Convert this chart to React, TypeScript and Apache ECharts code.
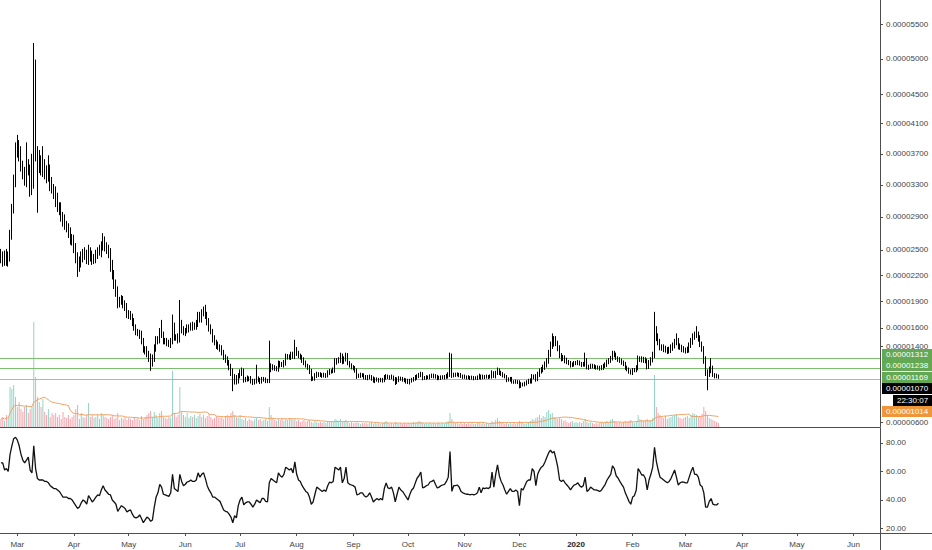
import React, { useEffect, useRef } from "react";
import * as echarts from "echarts";

// ---- data (prices in satoshi, 1e-8) ----
const START = [2019, 1, 20]; // 2019-02-20 (UTC, month 0-based)
const END = [2020, 5, 15]; // 2020-06-15
const FIRST_OPEN = 2450;

const closes = [
  2400, 2380, 2440, 2360, 2420, 2700, 3000, 3350, 3750, 3800,
  3700, 3550, 3450, 3350, 3550, 3500, 3250, 3300, 4850, 3700,
  3550, 3600, 3500, 3550, 3450, 3420, 3480, 3300, 3250, 3200,
  3100, 3020, 3000, 2900, 2850, 2800, 2760, 2700, 2630, 2600,
  2520, 2420, 2300, 2340, 2420, 2460, 2440, 2380, 2480, 2430,
  2380, 2400, 2440, 2480, 2470, 2540, 2600, 2540, 2500, 2460,
  2300, 2200, 2100, 2000, 1880, 1900, 1910, 1870, 1830, 1760,
  1740, 1720, 1660, 1600, 1560, 1540, 1520, 1450, 1370, 1360,
  1320, 1280, 1220, 1260, 1380, 1450, 1470, 1550, 1520, 1460,
  1450, 1440, 1420, 1450, 1620, 1500, 1490, 1470, 1650, 1580,
  1550, 1570, 1590, 1600, 1620, 1610, 1620, 1640, 1720, 1700,
  1760, 1800, 1740, 1660, 1600, 1560, 1480, 1440, 1410, 1390,
  1370, 1330, 1280, 1250, 1220, 1180, 1120, 1020, 1060, 1030,
  1080, 1110, 1130, 1040, 1050, 1055, 1050, 1030, 1010, 1025,
  1045, 1035, 1025, 1040, 1045, 1030, 1025, 1150, 1175, 1165,
  1160, 1150, 1210, 1200, 1195, 1220, 1280, 1280, 1275, 1300,
  1290, 1360, 1320, 1290, 1280, 1250, 1220, 1190, 1170, 1130,
  1050, 1055, 1080, 1100, 1095, 1090, 1085, 1090, 1085, 1110,
  1130, 1130, 1140, 1230, 1240, 1250, 1280, 1230, 1260, 1300,
  1220, 1190, 1175, 1160, 1140, 1080, 1085, 1090, 1088, 1070,
  1060, 1065, 1075, 1055, 1030, 1040, 1045, 1035, 1040, 1035,
  1065, 1080, 1068, 1065, 1070, 1050, 1015, 1040, 1058, 1050,
  1045, 1035, 1025, 1015, 1030, 1045, 1050, 1065, 1078, 1088,
  1100, 1060, 1065, 1068, 1070, 1078, 1080, 1085, 1072, 1060,
  1062, 1066, 1068, 1070, 1078, 1090, 1290, 1085, 1095, 1095,
  1098, 1092, 1080, 1075, 1070, 1068, 1066, 1062, 1064, 1060,
  1062, 1066, 1080, 1066, 1075, 1073, 1075, 1073, 1077, 1110,
  1080, 1110, 1140, 1115, 1100, 1090, 1075, 1040, 1045, 1050,
  1020, 1018, 1022, 1015, 975, 995, 990, 1000, 1015, 1025,
  1030, 1070, 1075, 1050, 1100, 1130, 1150, 1170, 1200, 1240,
  1320, 1400, 1430, 1470, 1430, 1380, 1300, 1270, 1275, 1250,
  1230, 1215, 1195, 1205, 1215, 1220, 1225, 1210, 1200, 1205,
  1250, 1170, 1175, 1190, 1185, 1175, 1172, 1168, 1162, 1170,
  1185, 1200, 1225, 1245, 1265, 1320, 1305, 1270, 1255, 1240,
  1225, 1205, 1170, 1150, 1130, 1115, 1140, 1145, 1170, 1260,
  1260, 1250, 1255, 1240, 1180, 1220, 1250, 1300, 1560, 1490,
  1440, 1390, 1380, 1370, 1360, 1350, 1360, 1380, 1410, 1440,
  1460, 1400, 1390, 1370, 1360, 1355, 1365, 1410, 1450, 1500,
  1520, 1530, 1480, 1420, 1370, 1250, 1120, 1100, 1140, 1160,
  1090, 1080, 1075, 1070,
];

const upperWicks = [
  60, 80, 50, 70, 60, 40, 60, 80, 100, 150,
  80, 100, 60, 80, 300, 80, 60, 400, 380, 140,
  100, 150, 80, 250, 80, 100, 200, 80, 100, 60,
  80, 100, 60, 80, 60, 80, 50, 60, 70, 60,
  80, 60, 50, 80, 60, 50, 70, 60, 80, 50,
  60, 50, 60, 50, 80, 60, 100, 60, 50, 60,
  60, 80, 60, 50, 70, 50, 60, 50, 40, 50,
  40, 50, 40, 50, 40, 30, 40, 50, 40, 30,
  40, 30, 40, 50, 40, 60, 40, 50, 140, 40,
  30, 40, 30, 40, 130, 40, 30, 50, 265, 40,
  40, 30, 50, 40, 40, 50, 40, 50, 60, 60,
  50, 40, 60, 40, 50, 40, 30, 40, 30, 40,
  30, 40, 30, 30, 40, 30, 30, 40, 40, 30,
  30, 40, 40, 30, 20, 30, 20, 30, 20, 25,
  155, 30, 25, 30, 25, 20, 20, 310, 40, 30,
  30, 25, 35, 30, 30, 30, 40, 35, 30, 40,
  40, 110, 30, 30, 30, 25, 30, 25, 20, 25,
  25, 20, 30, 25, 20, 25, 20, 25, 20, 30,
  25, 20, 30, 40, 30, 30, 50, 40, 30, 30,
  25, 20, 25, 20, 25, 20, 20, 25, 20, 20,
  20, 25, 20, 15, 20, 25, 20, 15, 20, 20,
  25, 20, 15, 20, 25, 15, 20, 25, 20, 15,
  20, 15, 20, 25, 20, 15, 20, 25, 20, 25,
  25, 20, 15, 20, 15, 20, 25, 20, 15, 20,
  20, 20, 20, 20, 25, 30, 40, 30, 20, 20,
  20, 15, 20, 15, 20, 15, 20, 15, 20, 15,
  15, 20, 25, 15, 20, 15, 20, 15, 20, 30,
  20, 25, 30, 20, 20, 20, 15, 15, 20, 20,
  20, 15, 20, 15, 20, 20, 15, 20, 20, 25,
  25, 30, 20, 25, 25, 30, 25, 30, 35, 30,
  40, 50, 110, 40, 40, 30, 30, 25, 30, 25,
  25, 20, 25, 20, 25, 20, 25, 20, 20, 25,
  80, 20, 25, 20, 20, 20, 20, 20, 20, 25,
  25, 25, 30, 25, 30, 30, 30, 25, 20, 25,
  25, 20, 25, 20, 20, 20, 25, 20, 25, 40,
  30, 30, 30, 25, 25, 30, 30, 40, 220, 60,
  50, 40, 30, 40, 35, 30, 35, 40, 30, 40,
  80, 30, 30, 25, 30, 25, 30, 30, 40, 40,
  40, 90, 30, 40, 30, 30, 40, 30, 40, 110,
  30, 20, 25, 20,
];

const lowerWicks = [
  60, 80, 70, 50, 60, 60, 80, 60, 80, 100,
  100, 80, 80, 60, 80, 80, 100, 80, 50, 100,
  600, 100, 80, 100, 80, 100, 80, 80, 60, 80,
  80, 60, 80, 60, 70, 60, 50, 60, 70, 50,
  60, 80, 120, 60, 50, 70, 60, 50, 60, 70,
  60, 50, 60, 50, 40, 60, 50, 60, 50, 60,
  60, 50, 60, 50, 60, 50, 40, 50, 40, 50,
  40, 30, 40, 30, 40, 30, 40, 30, 40, 50,
  40, 50, 86, 40, 30, 40, 30, 40, 30, 40,
  30, 40, 30, 40, 30, 40, 30, 40, 30, 40,
  30, 40, 30, 40, 30, 40, 30, 40, 30, 40,
  40, 30, 40, 30, 40, 30, 40, 30, 40, 30,
  30, 30, 30, 30, 30, 40, 40, 100, 30, 40,
  30, 25, 30, 30, 25, 30, 25, 30, 25, 20,
  25, 20, 30, 25, 20, 25, 20, 20, 30, 25,
  25, 20, 25, 30, 20, 25, 30, 25, 20, 25,
  25, 30, 25, 20, 25, 30, 25, 20, 25, 30,
  25, 20, 25, 20, 25, 20, 25, 20, 25, 20,
  20, 25, 20, 25, 30, 25, 30, 25, 20, 25,
  25, 20, 25, 20, 25, 30, 20, 25, 20, 25,
  20, 25, 20, 25, 20, 25, 20, 25, 20, 25,
  20, 25, 20, 25, 20, 25, 30, 20, 25, 20,
  25, 20, 25, 20, 25, 20, 25, 20, 25, 20,
  20, 25, 20, 25, 20, 25, 20, 25, 20, 25,
  20, 25, 20, 25, 20, 25, 20, 25, 20, 25,
  20, 25, 20, 25, 20, 25, 20, 25, 20, 25,
  20, 25, 20, 25, 20, 25, 20, 25, 20, 25,
  20, 25, 20, 25, 20, 25, 20, 25, 20, 25,
  20, 20, 20, 20, 25, 20, 20, 20, 20, 20,
  25, 30, 25, 30, 25, 30, 25, 30, 25, 30,
  30, 35, 30, 35, 30, 35, 30, 35, 30, 35,
  25, 20, 25, 20, 25, 20, 25, 20, 25, 20,
  25, 20, 25, 20, 25, 20, 25, 20, 25, 20,
  25, 20, 25, 20, 25, 20, 25, 20, 25, 20,
  25, 20, 25, 20, 25, 20, 25, 20, 25, 30,
  30, 25, 30, 25, 30, 25, 30, 25, 30, 35,
  30, 35, 30, 35, 30, 35, 30, 35, 30, 35,
  30, 35, 30, 35, 30, 35, 30, 35, 30, 35,
  30, 30, 30, 30, 30, 40, 40, 170, 30, 30,
  20, 25, 20, 20,
];

// volume in relative units
const volumes = [
  8, 10, 6, 12, 9, 40, 38, 42, 30, 20,
  25, 18, 15, 20, 22, 14, 18, 20, 105, 50,
  30, 25, 20, 28, 15, 12, 18, 10, 14, 12,
  14, 10, 12, 8, 15, 10, 9, 12, 8, 10,
  12, 18, 22, 8, 14, 10, 9, 12, 24, 10,
  12, 9, 10, 13, 8, 14, 12, 10, 9, 8,
  10, 12, 8, 9, 14, 7, 9, 8, 10, 7,
  9, 8, 7, 10, 8, 9, 7, 11, 8, 10,
  12, 14, 16, 10, 15, 12, 9, 14, 16, 10,
  9, 8, 10, 9, 56, 14, 10, 12, 40, 15,
  12, 10, 14, 9, 11, 10, 12, 9, 11, 13,
  10, 12, 9, 11, 13, 10, 8, 9, 11, 10,
  9, 10, 8, 11, 12, 10, 14, 16, 12, 10,
  9, 12, 8, 7, 9, 6, 8, 7, 6, 8,
  9, 7, 8, 6, 7, 8, 6, 20, 12, 9,
  7, 6, 8, 7, 9, 6, 8, 7, 9, 8,
  7, 8, 6, 7, 5, 6, 7, 5, 6, 7,
  5, 4, 6, 5, 4, 5, 4, 5, 4, 6,
  5, 6, 5, 8, 7, 6, 8, 5, 6, 7,
  5, 4, 5, 4, 4, 5, 4, 3, 4, 4,
  4, 3, 4, 5, 3, 4, 3, 4, 3, 4,
  5, 6, 4, 3, 4, 3, 5, 4, 3, 4,
  3, 4, 3, 4, 3, 4, 5, 4, 5, 6,
  5, 4, 3, 4, 3, 4, 3, 4, 3, 4,
  4, 3, 4, 3, 5, 6, 14, 8, 5, 4,
  4, 3, 4, 3, 4, 3, 4, 3, 4, 3,
  3, 4, 5, 3, 4, 3, 4, 3, 4, 6,
  5, 7, 9, 6, 5, 4, 3, 4, 3, 4,
  3, 4, 3, 4, 6, 5, 4, 3, 4, 5,
  6, 8, 7, 9, 10, 12, 9, 11, 10, 15,
  17, 13, 14, 10, 9, 8, 9, 8, 6, 7,
  5, 4, 5, 6, 4, 5, 4, 5, 4, 6,
  8, 5, 4, 5, 4, 3, 4, 3, 4, 5,
  4, 5, 6, 5, 7, 8, 6, 5, 4, 5,
  4, 5, 6, 5, 6, 7, 5, 4, 6, 12,
  8, 7, 6, 7, 8, 6, 7, 9, 52, 20,
  14, 12, 10, 9, 11, 8, 9, 10, 11, 12,
  13, 10, 9, 8, 9, 10, 11, 9, 12, 14,
  13, 12, 10, 11, 13, 20, 16, 12, 9, 8,
  7, 6, 5, 4,
];

const rsi = [
  66, 66, 61, 62, 60, 72, 78, 83, 84, 82,
  78, 72, 68, 66, 68, 70, 61, 59, 78, 62,
  55, 54, 54, 54, 53, 53, 52, 50, 49, 48,
  48, 47, 46, 44, 42, 42, 42, 41, 41, 40,
  38, 36, 34, 35, 38, 40, 39, 37, 43, 41,
  38.6, 40, 42, 43.5, 43, 47, 50, 47, 45.6, 44,
  43.5, 40, 38.6, 37, 32, 34, 36, 35, 34, 31.6,
  32.5, 33, 30, 28, 27.4, 28, 29.5, 27, 24, 26,
  28, 27, 25, 26, 35, 42, 45, 51, 49, 44,
  43.5, 43, 42.5, 45, 58, 48, 47, 46, 58, 53,
  50, 51, 52.6, 53, 54, 53, 53, 54, 59, 56,
  58, 59, 55, 50, 47, 45, 42, 42, 41, 40,
  39, 36, 33, 32, 31.6, 30, 28, 24, 29, 27.4,
  36, 40, 42, 36.5, 38, 38.6, 38.6, 37, 35, 37,
  40, 39, 38, 41, 41, 39, 38.6, 52, 55, 54,
  53, 52, 59, 57, 56, 58, 63, 62, 61, 62,
  59, 66.7, 58, 54, 53, 50, 48, 46, 45, 42,
  37, 38.6, 44, 49, 48, 47, 46, 47, 46, 50,
  52.6, 52, 53, 63, 62, 61, 63, 52, 55, 63,
  52, 51, 50.5, 50, 49, 43.5, 44, 45, 45, 43,
  42, 43, 45, 42, 38.6, 40, 41, 40, 41, 40,
  48, 52, 48.4, 48, 49, 45, 38.6, 44, 49, 47,
  46, 44, 42, 40, 44, 47, 48.4, 52, 55.4, 57,
  59.6, 48.4, 49, 50, 50.5, 52.6, 53, 54, 51, 48.4,
  49, 50, 50.5, 51, 53, 56, 74, 46, 50, 50,
  50.5, 49, 46, 45, 44.5, 44, 44, 43.5, 44, 43.5,
  44, 45, 49, 45, 48.4, 48, 48.4, 48, 49, 59.6,
  49, 58, 64.6, 57, 53, 50.5, 47, 44, 46, 48,
  46, 46, 47, 46, 36, 48, 47, 50, 53, 54,
  54, 62, 60, 50, 58, 61, 63, 64, 66.7, 70,
  73, 75, 73, 74, 69, 63, 54, 53, 54, 52,
  50.5, 49, 47, 49, 50.5, 51, 52, 50, 49, 50,
  56, 46, 47, 49, 48, 47, 47, 46.5, 46, 47,
  49, 51, 54, 56, 58, 64, 62, 57, 55.4, 53,
  51, 49, 45, 42, 39, 37, 42, 43, 47, 62,
  60, 57.5, 57.5, 55, 47, 54, 58, 63, 77, 67,
  61, 56, 55, 54, 53, 52, 53, 55, 58, 61,
  56, 50.5, 52, 52.6, 52.5, 52, 52, 56, 60, 63,
  58, 58, 56, 50.5, 49.5, 45, 35, 35, 39, 41,
  37, 36.5, 36.5, 37.7,
];

// price-axis labels (those hidden behind the price tags in the reference are left out)
const priceTicks = [5500, 5000, 4500, 4100, 3700, 3300, 2900, 2500, 2200, 1900, 1600, 1400, 600];
const rsiTicks = [20, 40, 60, 80];
const greenLevels = [1312, 1238, 1169];
const lastPrice = 1070;
const orangeLevel = 1014;
const countdownText = "22:30:07";
const monthNames = ["Jan", "Feb", "Mar", "Apr", "May", "Jun", "Jul", "Aug", "Sep", "Oct", "Nov", "Dec"];
const VOL_MA_LEN = 20;

// ---- helpers ----
const OFFSET = 10000;
const tf = (p: number) => Math.log(p + OFFSET);
const fmtPrice = (p: number) => (p / 1e8).toFixed(8);

function buildDates(): string[] {
  const out: string[] = [];
  const d = new Date(Date.UTC(START[0], START[1], START[2]));
  const end = Date.UTC(END[0], END[1], END[2]);
  while (d.getTime() <= end) {
    out.push(d.toISOString().slice(0, 10));
    d.setUTCDate(d.getUTCDate() + 1);
  }
  return out;
}

const GRID_W = 880;
const MAIN_H = 427;
const RSI_TOP = 428;
const RSI_H = 105;
const AXIS_COLOR = "#4d4d4d";
const FONT = "Liberation Sans";
const GREEN = "#63a853";
const GREEN_LINE = "#7dbd6f";
const ORANGE = "#f0963a";
const ORANGE_LINE = "#f2a160";

export default function App() {
  const ref = useRef<HTMLDivElement>(null);

  useEffect(() => {
    if (!ref.current) return;
    const chart = echarts.init(ref.current, null, { renderer: "svg" });
    const dates = buildDates();

    const opens = closes.map((c, i) => (i === 0 ? FIRST_OPEN : closes[i - 1]));
    const candleData = closes.map((c, i) => {
      const o = opens[i];
      const h = Math.max(o, c) + upperWicks[i];
      const l = Math.min(o, c) - lowerWicks[i];
      return [tf(o), tf(c), tf(l), tf(h)];
    });
    const volData = volumes.map((v, i) => ({
      value: v,
      itemStyle: { color: closes[i] >= opens[i] ? "#94d3c6" : "#f4a5ae" },
    }));
    const volMA = volumes.map((_, i) => {
      const s = Math.max(0, i - VOL_MA_LEN + 1);
      let sum = 0;
      for (let k = s; k <= i; k++) sum += volumes[k];
      return sum / (i - s + 1);
    });

    const isMonthStart = (_i: number, v: string) => typeof v === "string" && v.endsWith("-01");

    const option: any = {
      animation: false,
      backgroundColor: "#ffffff",
      textStyle: { fontFamily: FONT },
      grid: [
        { left: 0, top: 0, width: GRID_W, height: MAIN_H, outerBoundsMode: "none" },
        { left: 0, top: RSI_TOP, width: GRID_W, height: RSI_H, outerBoundsMode: "none" },
      ],
      xAxis: [
        {
          type: "category",
          gridIndex: 0,
          data: dates,
          boundaryGap: true,
          axisLine: { show: true, lineStyle: { color: AXIS_COLOR, width: 1 } },
          axisTick: { show: false },
          axisLabel: { show: false },
          splitLine: { show: false },
        },
        {
          type: "category",
          gridIndex: 1,
          data: dates,
          boundaryGap: true,
          axisLine: { show: true, lineStyle: { color: AXIS_COLOR, width: 1 } },
          axisTick: { show: true, alignWithLabel: true, interval: isMonthStart, length: 3, lineStyle: { color: AXIS_COLOR } },
          axisLabel: {
            interval: isMonthStart,
            margin: 7,
            fontSize: 8,
            color: "#444",
            fontFamily: FONT,
            formatter: (v: string) => {
              const m = parseInt(v.slice(5, 7), 10) - 1;
              return m === 0 ? "{y|" + v.slice(0, 4) + "}" : monthNames[m];
            },
            rich: { y: { fontSize: 8, fontWeight: "bold", color: "#222", fontFamily: FONT } },
          },
          splitLine: { show: false },
        },
      ],
      yAxis: [
        {
          type: "value",
          gridIndex: 0,
          position: "right",
          min: tf(553),
          max: tf(5868),
          axisLine: { show: true, lineStyle: { color: AXIS_COLOR, width: 1 } },
          axisTick: { show: true, length: 3, customValues: priceTicks.map(tf), lineStyle: { color: AXIS_COLOR } },
          axisLabel: {
            customValues: priceTicks.map(tf),
            formatter: (v: number) => fmtPrice(Math.round((Math.exp(v) - OFFSET) / 100) * 100),
            fontSize: 8,
            color: "#444",
            margin: 6,
            fontFamily: FONT,
          },
          splitLine: { show: false },
        },
        {
          type: "value",
          gridIndex: 0,
          min: 0,
          max: MAIN_H,
          show: false,
          splitLine: { show: false },
        },
        {
          type: "value",
          gridIndex: 1,
          position: "right",
          min: 16.8,
          max: 90.5,
          axisLine: { show: true, lineStyle: { color: AXIS_COLOR, width: 1 } },
          axisTick: { show: true, length: 3, customValues: rsiTicks, lineStyle: { color: AXIS_COLOR } },
          axisLabel: {
            customValues: rsiTicks,
            formatter: (v: number) => v.toFixed(2),
            fontSize: 8,
            color: "#444",
            margin: 6,
            fontFamily: FONT,
          },
          splitLine: { show: false },
        },
      ],
      series: [
        {
          type: "bar",
          name: "Volume",
          xAxisIndex: 0,
          yAxisIndex: 1,
          data: volData,
          barWidth: 1,
          z: 1,
        },
        {
          type: "line",
          name: "Volume MA",
          xAxisIndex: 0,
          yAxisIndex: 1,
          data: volMA,
          symbol: "none",
          lineStyle: { color: ORANGE_LINE, width: 1 },
          z: 2,
        },
        {
          type: "candlestick",
          name: "Price",
          xAxisIndex: 0,
          yAxisIndex: 0,
          data: candleData,
          barWidth: 1.1,
          itemStyle: {
            color: "#000",
            color0: "#000",
            borderColor: "#000",
            borderColor0: "#000",
            borderWidth: 1,
          },
          z: 5,
          markLine: {
            silent: true,
            symbol: ["none", "none"],
            label: { show: false },
            animation: false,
            data: [
              ...greenLevels.map((p) => ({ yAxis: tf(p), lineStyle: { color: GREEN_LINE, type: "solid", width: 1 } })),
              { yAxis: tf(lastPrice), lineStyle: { color: "#000", type: [1, 2], width: 1 } },
              { yAxis: tf(orangeLevel), lineStyle: { color: ORANGE_LINE, type: "solid", width: 1 } },
            ],
          },
        },
        {
          type: "line",
          name: "RSI",
          xAxisIndex: 1,
          yAxisIndex: 2,
          data: rsi,
          symbol: "none",
          lineStyle: { color: "#111", width: 1.3 },
        },
      ],
    };

    chart.setOption(option);

    // price tags on the right, stacked so they do not overlap
    const H = 11.5;
    const yOf = (p: number) => chart.convertToPixel({ yAxisIndex: 0 } as any, tf(p)) as number;
    const tags: { text: string; y: number; fill: string; x: number; w: number }[] = [];
    greenLevels.forEach((p) => tags.push({ text: fmtPrice(p), y: yOf(p), fill: GREEN, x: GRID_W + 2, w: 50 }));
    tags.push({ text: fmtPrice(lastPrice), y: yOf(lastPrice), fill: "#000", x: GRID_W + 2, w: 50 });
    tags.push({ text: countdownText, y: yOf(lastPrice) + H, fill: "#000", x: GRID_W + 13, w: 39 });
    tags.push({ text: fmtPrice(orangeLevel), y: yOf(orangeLevel), fill: ORANGE, x: GRID_W + 2, w: 50 });
    let prev = -Infinity;
    tags.forEach((t) => {
      t.y = Math.max(t.y, prev + H);
      prev = t.y;
    });

    const elements: any[] = [];
    tags.forEach((t) => {
      elements.push({
        type: "rect",
        shape: { x: t.x, y: Math.round(t.y - 5.5), width: t.w, height: 11 },
        style: { fill: t.fill },
        z: 100,
      });
      elements.push({
        type: "text",
        x: t.x + t.w / 2,
        y: Math.round(t.y - 5.5) + 5.5,
        style: {
          text: t.text,
          fill: "#fff",
          font: `8px "${FONT}"`,
          align: "center",
          verticalAlign: "middle",
        },
        z: 101,
      });
    });
    const bottomY = RSI_TOP + RSI_H;
    elements.push({
      type: "line",
      shape: { x1: GRID_W + 0.5, y1: bottomY, x2: GRID_W + 0.5, y2: 550 },
      style: { stroke: AXIS_COLOR, lineWidth: 1 },
      z: 50,
    });
    elements.push({
      type: "line",
      shape: { x1: GRID_W, y1: bottomY + 0.5, x2: 932, y2: bottomY + 0.5 },
      style: { stroke: AXIS_COLOR, lineWidth: 1 },
      z: 50,
    });
    chart.setOption({ graphic: { elements } });

    return () => chart.dispose();
  }, []);

  return (
    <div
      ref={ref}
      style={{ position: "absolute", left: 0, top: 0, width: 932, height: 550, background: "#fff" }}
    />
  );
}
